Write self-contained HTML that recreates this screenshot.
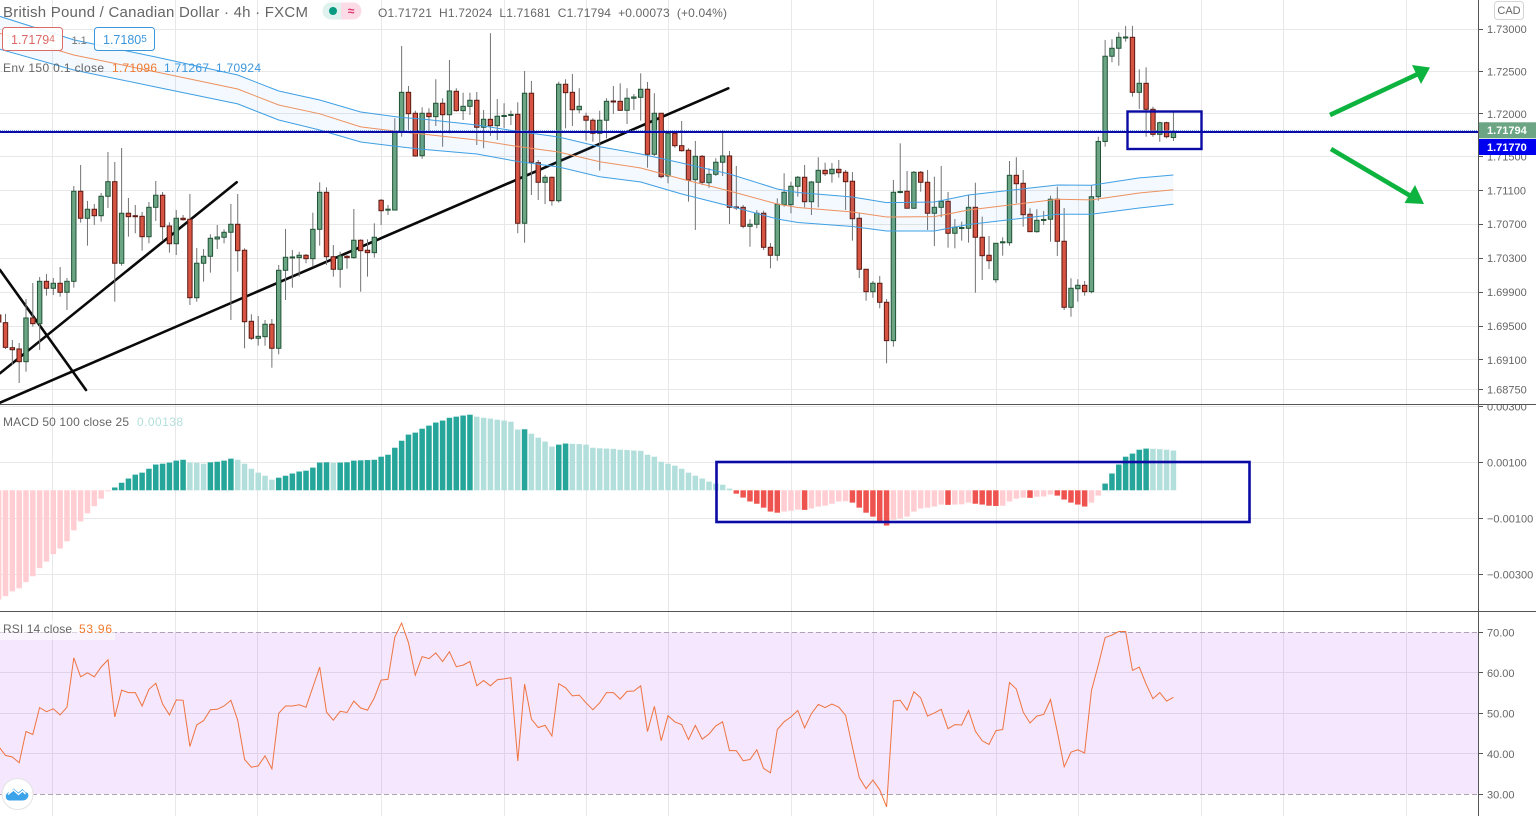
<!DOCTYPE html>
<html lang="en">
<head>
<meta charset="utf-8">
<title>GBP/CAD 4h chart</title>
<style>
html,body{margin:0;padding:0;background:#fff;width:1536px;height:816px;overflow:hidden}
svg{display:block;font-family:"Liberation Sans",Arial,sans-serif}
text{white-space:pre}
</style>
</head>
<body>
<svg id="chart" width="1536" height="816" viewBox="0 0 1536 816" xmlns="http://www.w3.org/2000/svg">
  <defs>
    <clipPath id="clip-price"><rect x="0" y="0" width="1478" height="404"/></clipPath>
    <clipPath id="clip-macd"><rect x="0" y="405" width="1478" height="206"/></clipPath>
    <clipPath id="clip-rsi"><rect x="0" y="612" width="1478" height="204"/></clipPath>
    <clipPath id="clip-macd-axis"><rect x="1479" y="405" width="57" height="206"/></clipPath>
  </defs>
  <rect x="0" y="0" width="1536" height="816" fill="#ffffff"/>
  <g id="grid"></g>
  <rect x="0" y="632" width="1478" height="162" fill="rgb(155,40,245)" fill-opacity="0.11"/>
  <g id="rsi-bounds"></g>

  <g stroke="#0a0a0a" stroke-width="2.6" stroke-linecap="round">
    <line x1="0" y1="270" x2="86" y2="390"/>
    <line x1="0" y1="373.3" x2="236.7" y2="182.3"/>
    <line x1="0" y1="402.7" x2="728.3" y2="88.3"/>
  </g>

  <g id="candles" clip-path="url(#clip-price)"></g>
  <g id="envelope" clip-path="url(#clip-price)"></g>
  <g id="macd" clip-path="url(#clip-macd)"></g>
  <g id="rsi" clip-path="url(#clip-rsi)"></g>

  <line x1="0" y1="130.8" x2="1478" y2="130.8" stroke="#3c7be0" stroke-width="1" stroke-dasharray="1 1"/>
  <line x1="0" y1="132" x2="1478" y2="132" stroke="#0a0aa5" stroke-width="2"/>
  <rect x="1127.5" y="111.5" width="74" height="37.5" fill="none" stroke="#0a0aa5" stroke-width="2.4"/>
  <rect x="716.5" y="462" width="533" height="60" fill="none" stroke="#0a0aa5" stroke-width="2.6"/>

  <g fill="#0db33f" stroke="#0db33f">
    <line x1="1330" y1="115" x2="1420" y2="73" stroke-width="4.6"/>
    <polygon points="1430,67.5 1412,65 1421,84" stroke="none"/>
  </g>
  <g fill="#0db33f" stroke="#0db33f">
    <line x1="1331" y1="149" x2="1414" y2="198" stroke-width="4.6"/>
    <polygon points="1424,204 1415,185 1404.500,203" stroke="none"/>
  </g>

  <rect x="0" y="620" width="115" height="20" fill="#ffffff" fill-opacity="0.55"/>

  <g id="axis"></g>
  <line x1="0" y1="404.5" x2="1536" y2="404.5" stroke="#555" stroke-width="1"/>
  <line x1="0" y1="611.5" x2="1536" y2="611.5" stroke="#555" stroke-width="1"/>
  <line x1="1478.5" y1="0" x2="1478.5" y2="816" stroke="#555" stroke-width="1"/>

  <rect x="1479" y="122.3" width="57" height="16" fill="#6ba583"/>
  <text x="1487" y="134.2" font-size="11" font-weight="bold" fill="#fff">1.71794</text>
  <rect x="1479" y="139" width="57" height="16" fill="#0000f0"/>
  <text x="1487" y="151" font-size="11" font-weight="bold" fill="#fff">1.71770</text>

  <g>
    <rect x="1494.5" y="1.5" width="29" height="18" rx="3" fill="#fff" stroke="#d4d4d4"/>
    <text x="1509" y="14" font-size="11" text-anchor="middle" fill="#666">CAD</text>
  </g>

  <text x="3" y="17" font-size="15" fill="#666" textLength="305" lengthAdjust="spacing">British Pound / Canadian Dollar · 4h · FXCM</text>
  <g>
    <path d="M331,2.5h10v17h-10a8.5,8.5 0 0 1 0,-17z" fill="#dff2ee"/>
    <path d="M341,2.5h12a8.5,8.5 0 0 1 0,17h-12z" fill="#fbdbe6"/>
    <circle cx="333" cy="11" r="4" fill="#089981"/>
    <text x="351" y="15" font-size="12" font-weight="bold" text-anchor="middle" fill="#e0316f">≈</text>
  </g>
  <text x="378" y="17" font-size="12" fill="#666" textLength="349" lengthAdjust="spacing">O1.71721  H1.72024  L1.71681  C1.71794  +0.00073  (+0.04%)</text>

  <g>
    <rect x="2.5" y="27.5" width="60" height="23" rx="3" fill="#fff" fill-opacity="0.9" stroke="#dc6a66"/>
    <text x="11" y="44" font-size="12.500" fill="#dc6a66">1.7179<tspan font-size="10" dy="-2">4</tspan></text>
  </g>
  <text x="71.5" y="44" font-size="11" fill="#777">1.1</text>
  <g>
    <rect x="94.5" y="27.5" width="60" height="23" rx="3" fill="#fff" fill-opacity="0.9" stroke="#3c96dc"/>
    <text x="103" y="44" font-size="12.500" fill="#3c96dc">1.7180<tspan font-size="10" dy="-2">5</tspan></text>
  </g>

  <g font-size="12">
    <text x="3" y="72" fill="#666" textLength="101" lengthAdjust="spacing">Env 150 0.1 close</text>
    <text x="112" y="72" fill="#f07a30" textLength="45" lengthAdjust="spacing">1.71096</text>
    <text x="164" y="72" fill="#3c96dc" textLength="45" lengthAdjust="spacing">1.71267</text>
    <text x="216" y="72" fill="#3c96dc" textLength="45" lengthAdjust="spacing">1.70924</text>
  </g>
  <g font-size="12">
    <text x="3" y="426" fill="#666" textLength="126" lengthAdjust="spacing">MACD 50 100 close 25</text>
    <text x="137" y="426" fill="#b2dfdb" textLength="46" lengthAdjust="spacing">0.00138</text>
  </g>
  <g font-size="12">
    <text x="3" y="633" fill="#666" textLength="69" lengthAdjust="spacing">RSI 14 close</text>
    <text x="79" y="633" fill="#f07a30" textLength="33" lengthAdjust="spacing">53.96</text>
  </g>

  <g>
    <circle cx="17.6" cy="794" r="15.5" fill="#fff" stroke="#e4e4e4"/>
    <path d="M6,798c-1,-4 2,-6 4,-5.500l3.500,-4 5,4 4,-3.500 3,3.500c3,-1 4,4 1.500,6 -1,1.500 -3,2 -5,2h-12c-2,0 -3.500,-1 -4,-2.500z" fill="#3ba3ea"/>
    <path d="M8,794.500l5.500,-4.500 5,4.500 4,-3.500 3,3" fill="none" stroke="#fff" stroke-width="1.400"/>
  </g>

<script>
// ---- Data ----
const bars = 173;
const opens = [
1.69630,1.69540,1.69245,1.69230,1.69080,1.69595,1.69528,1.70027,1.69945,1.70004,1.69898,
1.70027,1.71088,1.70770,1.70876,1.70800,1.71029,1.71201,1.70240,1.70829,1.70800,
1.70793,1.70553,1.70899,1.71041,1.70679,1.70470,1.70770,1.70758,1.69834,1.70240,
1.70322,1.70526,1.70546,1.70605,1.70699,1.70393,1.69556,1.69356,1.69375,1.69521,
1.69238,1.70157,1.70302,1.70306,1.70334,1.70294,1.70640,1.71076,1.70317,1.70169,
1.70322,1.70306,1.70511,1.70393,1.70365,1.70982,1.70865,1.70867,1.71790,1.72254,
1.72007,1.71507,1.72007,1.71967,1.72125,1.71990,1.72266,1.72038,1.72089,1.72160,
1.71842,1.71936,1.71861,1.71969,1.71981,1.71995,1.70711,1.72243,1.71425,1.71194,
1.71253,1.70977,1.72349,1.72254,1.72049,1.71972,1.71925,1.71771,1.71925,1.72152,
1.72148,1.72042,1.72184,1.72195,1.72290,1.71524,1.72007,1.71268,1.71771,1.71625,
1.71571,1.71225,1.71500,1.71189,1.71288,1.71430,1.71504,1.70903,1.70899,1.70675,
1.70699,1.70829,1.70428,1.70334,1.70930,1.70930,1.71147,1.71253,1.70965,1.71194,
1.71335,1.71295,1.71347,1.71312,1.71206,1.70770,1.70169,1.69905,1.70004,1.69780,
1.69328,1.71074,1.71088,1.70888,1.71312,1.71194,1.70829,1.70899,1.70970,1.70593,
1.70650,1.70652,1.70899,1.70546,1.70334,1.70046,1.70481,1.70482,1.71276,1.71182,
1.70817,1.70612,1.70744,1.70758,1.70994,1.70499,1.69721,1.69940,1.69980,1.69905,
1.71024,1.71675,1.72679,1.72773,1.72894,1.72902,1.72254,1.72360,1.72054,1.71759,
1.71896,1.71721];
const highs = [
1.69666,1.69642,1.69336,1.69300,1.69819,1.70007,1.70078,1.70113,1.70066,1.70196,1.70066,
1.71150,1.71398,1.70974,1.70938,1.71068,1.71551,1.71433,1.71598,1.71009,1.70926,
1.70844,1.70962,1.71209,1.71080,1.70723,1.70867,1.70809,1.71056,1.70420,1.70408,
1.70581,1.70691,1.70640,1.70938,1.71056,1.70416,1.69639,1.69618,1.69571,1.69583,
1.70220,1.70644,1.70396,1.70376,1.70349,1.70836,1.71194,1.71135,1.70455,1.70376,
1.70337,1.70879,1.70522,1.70522,1.70711,1.70997,1.70926,1.71948,1.72800,1.72329,
1.72038,1.72078,1.72066,1.72408,1.72184,1.72635,1.72302,1.72250,1.72250,1.72258,
1.72046,1.72950,1.72175,1.72125,1.72038,1.72137,1.72505,1.72388,1.71457,1.71280,
1.71260,1.72379,1.72408,1.72470,1.72302,1.72014,1.71948,1.72038,1.72184,1.72329,
1.72360,1.72302,1.72234,1.72478,1.72376,1.72243,1.72011,1.71790,1.71790,1.71916,
1.71595,1.71681,1.71516,1.71359,1.71477,1.71810,1.71563,1.71386,1.70926,1.70758,
1.70867,1.70859,1.70479,1.71005,1.71300,1.71201,1.71268,1.71398,1.71209,1.71489,
1.71425,1.71421,1.71457,1.71339,1.71315,1.70829,1.70172,1.70031,1.70090,1.69819,
1.71221,1.71653,1.71327,1.71327,1.71327,1.71339,1.71260,1.71386,1.71080,1.70761,
1.70730,1.71044,1.71189,1.70789,1.70561,1.70479,1.70546,1.71445,1.71489,1.71339,
1.70888,1.70876,1.70856,1.71036,1.71142,1.70891,1.70063,1.70051,1.70031,1.71162,
1.71731,1.72871,1.72879,1.72961,1.73036,1.73036,1.72525,1.72549,1.72085,1.71908,
1.71908,1.72024];
const lows = [
1.69513,1.69230,1.69041,1.68829,1.68962,1.69493,1.69218,1.69858,1.69866,1.69846,1.69689,
1.69952,1.70718,1.70447,1.70691,1.70730,1.70891,1.69787,1.70211,1.70553,1.70593,
1.70388,1.70475,1.70738,1.70502,1.70365,1.70337,1.70742,1.69748,1.69787,1.70023,
1.70129,1.70408,1.70475,1.69571,1.70141,1.69238,1.69336,1.69269,1.69269,1.69009,
1.69167,1.69807,1.69952,1.70082,1.70240,1.70199,1.70447,1.70220,1.70082,1.69952,
1.70176,1.70294,1.69905,1.70082,1.70306,1.70691,1.70809,1.70862,1.71731,1.71810,
1.71495,1.71472,1.71790,1.71857,1.71613,1.71771,1.72026,1.71928,1.71987,1.71633,
1.71595,1.71740,1.71692,1.71834,1.71869,1.70593,1.70482,1.71044,1.70986,1.70938,
1.70918,1.70954,1.71830,1.71857,1.72007,1.71684,1.71672,1.71331,1.71712,1.71999,
1.72036,1.71881,1.72046,1.71920,1.71366,1.71504,1.71241,1.71182,1.71602,1.71555,
1.70966,1.70632,1.71162,1.71130,1.71268,1.71268,1.70703,1.70867,1.70652,1.70435,
1.70652,1.70396,1.70180,1.70270,1.70906,1.70829,1.71024,1.70899,1.70809,1.70899,
1.71268,1.71189,1.71248,1.70867,1.70506,1.70066,1.69799,1.69834,1.69709,1.69061,
1.69257,1.71064,1.70885,1.70879,1.71083,1.70632,1.70443,1.70782,1.70423,1.70416,
1.70506,1.70482,1.69893,1.70043,1.70172,1.70011,1.70329,1.70447,1.70947,1.70671,
1.70608,1.70600,1.70691,1.70494,1.70326,1.69689,1.69610,1.69787,1.69858,1.69886,
1.70977,1.71613,1.72608,1.72568,1.72851,1.72203,1.72058,1.71731,1.71731,1.71672,
1.71712,1.71681];
const closes = [
1.69548,1.69249,1.69221,1.69080,1.69595,1.69528,1.70027,1.69945,1.70004,1.69898,1.70027,
1.71088,1.70770,1.70876,1.70800,1.71029,1.71201,1.70240,1.70829,1.70789,1.70790,
1.70553,1.70899,1.71041,1.70671,1.70470,1.70770,1.70753,1.69834,1.70240,1.70322,
1.70534,1.70549,1.70605,1.70699,1.70388,1.69551,1.69356,1.69379,1.69521,1.69238,
1.70157,1.70310,1.70314,1.70334,1.70294,1.70640,1.71076,1.70317,1.70169,1.70326,
1.70306,1.70511,1.70388,1.70365,1.70546,1.70859,1.70877,1.71790,1.72254,1.72002,
1.71504,1.72007,1.71967,1.72125,1.71990,1.72270,1.72038,1.72089,1.72160,1.71842,
1.71936,1.71861,1.71972,1.71981,1.71993,1.70711,1.72243,1.71430,1.71194,1.71253,
1.70977,1.72349,1.72250,1.72049,1.72089,1.71925,1.71771,1.71925,1.72148,1.72140,
1.72042,1.72184,1.72199,1.72290,1.71524,1.72007,1.71260,1.71771,1.71625,1.71566,
1.71221,1.71500,1.71194,1.71288,1.71430,1.71504,1.70899,1.70891,1.70675,1.70699,
1.70829,1.70428,1.70334,1.70935,1.71076,1.71147,1.71253,1.70965,1.71197,1.71335,
1.71295,1.71347,1.71307,1.71201,1.70765,1.70169,1.69905,1.70004,1.69780,1.69328,
1.71076,1.71085,1.70888,1.71312,1.71194,1.70829,1.70899,1.70970,1.70593,1.70664,
1.70661,1.70899,1.70546,1.70329,1.70270,1.70475,1.70493,1.71276,1.71177,1.70812,
1.70612,1.70746,1.70756,1.70994,1.70499,1.69721,1.69945,1.69980,1.69905,1.71024,
1.71675,1.72679,1.72773,1.72902,1.72906,1.72254,1.72360,1.72054,1.71759,1.71896,
1.71731,1.71794];

// Envelope: readings taken at the listed bar numbers
const envBars = [0,11,23,35,41,47,53,59,62,70,76,82,88,94,100,107,114,117,125,130,137,142,155,160,167,172];
const envUpper = [1.73153,1.72871,1.72670,1.72458,1.72270,1.72164,1.72022,1.71957,1.71940,1.71869,1.71793,1.71728,1.71613,1.71527,1.71421,1.71292,1.71115,1.71074,1.71021,1.70954,1.70962,1.71044,1.71162,1.71159,1.71245,1.71280];
const envBasis = [1.72953,1.72694,1.72494,1.72293,1.72105,1.72001,1.71846,1.71787,1.71763,1.71692,1.71616,1.71551,1.71437,1.71362,1.71233,1.71091,1.70938,1.70897,1.70844,1.70785,1.70789,1.70867,1.70994,1.70986,1.71068,1.71107];
const envLower = [1.72765,1.72517,1.72317,1.72117,1.71928,1.71810,1.71669,1.71610,1.71583,1.71527,1.71439,1.71374,1.71260,1.71197,1.71056,1.70915,1.70761,1.70720,1.70673,1.70620,1.70620,1.70697,1.70817,1.70817,1.70891,1.70935];

const macdValues = [
-0.00390,-0.00378,-0.00361,-0.00350,-0.00328,-0.00307,-0.00278,-0.00255,-0.00228,-0.00208,-0.00182,
-0.00143,-0.00111,-0.00082,-0.00057,-0.00030,-0.00001,0.00010,0.00027,0.00042,0.00056,
0.00063,0.00077,0.00092,0.00095,0.00099,0.00106,0.00109,0.00099,0.00098,0.00095,
0.00100,0.00102,0.00106,0.00113,0.00109,0.00095,0.00077,0.00063,0.00052,0.00038,
0.00045,0.00052,0.00060,0.00067,0.00070,0.00081,0.00099,0.00100,0.00098,0.00099,
0.00100,0.00106,0.00107,0.00108,0.00109,0.00120,0.00127,0.00152,0.00177,0.00199,
0.00206,0.00220,0.00231,0.00242,0.00249,0.00259,0.00263,0.00267,0.00270,0.00263,
0.00259,0.00256,0.00252,0.00249,0.00245,0.00217,0.00218,0.00202,0.00188,0.00174,
0.00156,0.00163,0.00167,0.00166,0.00165,0.00163,0.00152,0.00150,0.00149,0.00148,
0.00145,0.00144,0.00142,0.00141,0.00127,0.00120,0.00102,0.00095,0.00088,0.00077,
0.00063,0.00052,0.00042,0.00031,0.00024,0.00020,0.00006,-0.00012,-0.00026,-0.00040,
-0.00048,-0.00062,-0.00076,-0.00080,-0.00076,-0.00073,-0.00069,-0.00070,-0.00065,-0.00058,
-0.00055,-0.00048,-0.00040,-0.00039,-0.00044,-0.00062,-0.00080,-0.00094,-0.00112,-0.00126,
-0.00105,-0.00101,-0.00094,-0.00076,-0.00065,-0.00062,-0.00058,-0.00051,-0.00052,-0.00051,
-0.00050,-0.00044,-0.00048,-0.00051,-0.00055,-0.00056,-0.00055,-0.00040,-0.00030,-0.00026,
-0.00027,-0.00023,-0.00022,-0.00015,-0.00019,-0.00033,-0.00044,-0.00051,-0.00058,-0.00044,
-0.00019,0.00024,0.00060,0.00092,0.00120,0.00131,0.00145,0.00149,0.00148,0.00147,
0.00145,0.00142];

const rsiValues = [
41.8,39.6,39.2,37.8,45.5,44.8,51.4,50.4,51.1,49.6,51.5,
63.7,59.0,60.0,59.0,61.4,63.2,49.1,55.7,55.1,55.1,
51.8,55.9,57.4,52.3,49.6,53.3,53.2,41.8,47.1,48.2,
50.9,51.0,51.8,53.2,48.3,38.6,36.7,37.0,39.5,36.3,
50.0,51.8,51.8,52.1,51.5,56.5,61.4,50.3,48.3,50.5,
50.2,53.0,51.3,50.8,53.8,58.2,58.4,68.8,72.3,67.4,
59.4,64.0,63.5,64.9,62.8,65.2,61.5,61.9,62.8,56.8,
58.1,56.8,58.3,58.5,58.8,38.2,57.2,48.6,46.5,47.0,
44.4,57.3,56.3,54.3,54.5,52.6,50.9,52.6,55.1,55.1,
53.5,55.4,55.5,56.8,45.5,51.7,43.2,49.4,47.9,47.2,
43.5,47.0,43.6,44.9,46.9,47.9,40.8,40.8,38.3,38.6,
41.0,36.4,35.3,46.0,47.9,49.1,50.7,46.4,49.9,52.2,
51.4,52.3,51.5,49.5,41.7,34.1,31.4,33.5,31.1,26.9,
53.0,53.2,50.8,55.3,53.8,49.3,50.1,51.0,46.2,47.2,
47.1,50.7,45.6,43.2,42.3,45.7,46.0,57.6,56.0,50.3,
47.6,49.3,49.7,53.4,45.4,36.8,40.4,41.0,40.2,55.7,
61.9,68.7,69.3,70.2,70.2,60.6,61.4,57.2,53.6,55.1,
53.0,53.96];

const priceTicks = [1.73,1.725,1.72,1.715,1.711,1.707,1.703,1.699,1.695,1.691,1.6875];
const priceTickLabels = ["1.73000","1.72500","1.72000","1.71500","1.71100","1.70700","1.70300","1.69900","1.69500","1.69100","1.68750"];
const macdTicks = [0.003,0.001,-0.001,-0.003];
const macdTickLabels = ["0.00300","0.00100","\u22120.00100","\u22120.00300"];
const rsiTicks = [70,60,50,40,30];
const rsiTickLabels = ["70.00","60.00","50.00","40.00","30.00"];
const timeGridBars = [7.85,25.89,37.9,56.09,74.06,86.07,98.07,116.08,128.09,146.09,158.09,176.09,188.09,206.09];

// ---- Axis functions ----
function barX(k){ return 5.5 + 6.83 * (k - 1); }
function timeGridX(k){ return Math.floor(barX(k)) + 0.5; }
function priceY(p){ return 29 + (1.73 - p) * 8487; }
function macdY(v){ return 490.3 - v * 28000; }
function rsiY(v){ return 794.3 - (v - 30) * 4.05; }

const NS = "http://www.w3.org/2000/svg";
function make(tag, parent, attrs){
  const node = document.createElementNS(NS, tag);
  for (const key in attrs) node.setAttribute(key, attrs[key]);
  parent.appendChild(node);
  return node;
}

// ---- Grid ----
const gridGroup = document.getElementById("grid");
const gridColor = "#e8e8e8";
timeGridBars.forEach(function(k){
  const line = make("line", gridGroup, {x1:timeGridX(k), x2:timeGridX(k), y1:0, y2:816, stroke:gridColor});
  
  
});
function horizontalGrid(y){
  const line = make("line", gridGroup, {x1:0, x2:1478, y1:Math.floor(y)+0.5, y2:Math.floor(y)+0.5, stroke:gridColor});
  
  
}
priceTicks.forEach(function(t){ horizontalGrid(priceY(t)); });
macdTicks.forEach(function(t){ horizontalGrid(macdY(t)); });
[60,50,40].forEach(function(t){ horizontalGrid(rsiY(t)); });

const boundsGroup = document.getElementById("rsi-bounds");
[70,30].forEach(function(t){
  const line = make("line", boundsGroup, {x1:0, x2:1478, y1:Math.round(rsiY(t))+0.5, y2:Math.round(rsiY(t))+0.5, stroke:"#aaa4b0", "stroke-dasharray":"5 3"});
  
  
});

// ---- Candles ----
const candleGroup = document.getElementById("candles");
opens.forEach(function(open, k){
  const close = closes[k];
  const up = close >= open;
  const cx = barX(k);
  const group = make("g", candleGroup, {});
  
  
  make("line", group, {x1:cx, x2:cx, y1:priceY(highs[k]), y2:priceY(lows[k]), stroke:"#737375", "stroke-width":1});
  const top = priceY(Math.max(open, close));
  const height = Math.max(1, priceY(Math.min(open, close)) - top);
  make("rect", group, {x:cx-2.2, y:top, width:4.4, height:height, fill:up ? "#6ba583" : "#d75442", stroke:up ? "#225437" : "#5b1a13", "stroke-width":1});
});

// ---- Envelope ----
const envGroup = document.getElementById("envelope");
function envPoints(values){
  return values.map(function(v, n){ return barX(envBars[n]).toFixed(1) + "," + priceY(v).toFixed(1); });
}
const envFillPath = make("polygon", envGroup, {points:envPoints(envUpper).concat(envPoints(envLower).reverse()).join(" "), fill:"#2196f3", "fill-opacity":0.055});


const envUpperLine = make("polyline", envGroup, {points:envPoints(envUpper).join(" "), fill:"none", stroke:"#3f9fe4", "stroke-width":1});


const envBasisLine = make("polyline", envGroup, {points:envPoints(envBasis).join(" "), fill:"none", stroke:"#ee9160", "stroke-width":1});


const envLowerLine = make("polyline", envGroup, {points:envPoints(envLower).join(" "), fill:"none", stroke:"#3f9fe4", "stroke-width":1});



// ---- MACD histogram ----
const macdGroup = document.getElementById("macd");
macdValues.forEach(function(v, k){
  const prev = k > 0 ? macdValues[k-1] : v - 0.00001;
  let fill;
  if (v >= 0) fill = v >= prev ? "#26a69a" : "#b2dfdb";
  else fill = v < prev ? "#ef5350" : "#ffcdd2";
  const zero = macdY(0);
  const y = macdY(v);
  const bar = make("rect", macdGroup, {x:barX(k)-2.75, y:Math.min(y, zero), width:5.5, height:Math.max(1, Math.abs(y-zero)), fill:fill});
  
  
});

// ---- RSI ----
const rsiLine = make("polyline", document.getElementById("rsi"), {
  points: rsiValues.map(function(v, k){ return barX(k).toFixed(1) + "," + rsiY(v).toFixed(1); }).join(" "),
  fill:"none", stroke:"#ef7440", "stroke-width":1
});



// ---- Axis ticks and labels ----
const axisGroup = document.getElementById("axis");
function addTick(y, label, parent){
  const mark = make("line", parent, {x1:1478, x2:1483, y1:Math.floor(y)+0.5, y2:Math.floor(y)+0.5, stroke:"#555"});
  
  
  const text = make("text", parent, {x:1487, y:y+4, "font-size":11, fill:"#666"});
  
  
  text.textContent = label;
}
priceTicks.forEach(function(t, n){ addTick(priceY(t), priceTickLabels[n], axisGroup); });
const macdAxisGroup = make("g", axisGroup, {"clip-path":"url(#clip-macd-axis)"});


macdTicks.forEach(function(t, n){ addTick(macdY(t), macdTickLabels[n], macdAxisGroup); });
rsiTicks.forEach(function(t, n){ addTick(rsiY(t), rsiTickLabels[n], axisGroup); });
</script>
</svg>
</body>
</html>
